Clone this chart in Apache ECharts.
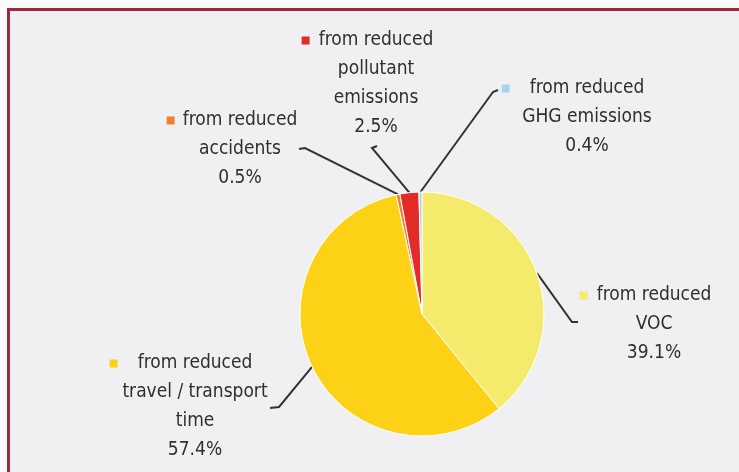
<!DOCTYPE html>
<html>
<head>
<meta charset="utf-8">
<script src="https://cdn.jsdelivr.net/npm/echarts@6/dist/echarts.min.js"></script>
<style>
  html, body { margin: 0; padding: 0; background: #fbfbfb; }
  #frame { position: absolute; left: 7px; top: 8px; width: 760px; height: 480px;
           border-top: 3px solid #a0283c; border-left: 3px solid #a0283c; background: #f0f0f2; }
  #chart { position: absolute; left: 0; top: 0; width: 739px; height: 472px; }
</style>
</head>
<body>
<div id="frame"></div>
<div id="chart"></div>
<script>
// ---- data ----
const categories = [
  'from reduced\nVOC',
  'from reduced\ntravel / transport\ntime',
  'from reduced\naccidents',
  'from reduced\npollutant\nemissions',
  'from reduced\nGHG emissions'
];
const shares = [39.1, 57.4, 0.5, 2.5, 0.4];
const colors = ['#f4ea6c', '#fcd116', '#f08030', '#e32b27', '#a9d3ef'];

// ---- label placement (layout only) ----
const labelPlace = [
  { x: 654, y: 281, gap: 9,  elbow: [572, 322], end: [578, 322] },
  { x: 195, y: 349, gap: 20, elbow: [279, 407], end: [270, 408] },
  { x: 240, y: 106, gap: 8,  elbow: [305, 148], end: [299, 149] },
  { x: 376, y: 26,  gap: 9,  elbow: [372, 148], end: [377, 146] },
  { x: 587, y: 74,  gap: 20, elbow: [493, 92],  end: [498, 90] }
];

const FONT = "'Liberation Sans Narrow', 'Arial Narrow', 'DejaVu Sans Condensed', sans-serif";

const chart = echarts.init(document.getElementById('chart'), null, { renderer: 'canvas' });

const data = categories.map((c, i) => ({
  name: c,
  value: shares[i],
  itemStyle: { color: colors[i] },
  label: {
    rich: {
      m: { width: 8, height: 8, backgroundColor: colors[i] },
      g: { width: labelPlace[i].gap },
      s: { width: 8 + labelPlace[i].gap }
    }
  }
}));

chart.setOption({
  backgroundColor: 'transparent',
  animation: false,
  series: [{
    type: 'pie',
    center: [422, 314],
    radius: [0, 122],
    startAngle: 90,
    clockwise: true,
    avoidLabelOverlap: false,
    itemStyle: { borderColor: '#ffffff', borderWidth: 1 },
    label: {
      show: true,
      position: 'outside',
      color: '#2f2f2f',
      fontFamily: FONT,
      fontSize: 19,
      lineHeight: 29,
      align: 'center',
      formatter: function (p) {
        const lines = p.name.split('\n');
        const first = '{m|}{g|}' + lines[0] + '{s|}';
        return [first].concat(lines.slice(1)).concat([p.value.toFixed(1) + '%']).join('\n');
      }
    },
    labelLine: {
      show: true,
      lineStyle: { color: '#333333', width: 2 }
    },
    labelLayout: function (p) {
      const c = labelPlace[p.dataIndex];
      const start = p.labelLinePoints ? p.labelLinePoints[0] : c.elbow;
      return {
        x: c.x, y: c.y, align: 'center', verticalAlign: 'top',
        labelLinePoints: [start, c.elbow, c.end]
      };
    },
    data: data
  }]
});
</script>
</body>
</html>
